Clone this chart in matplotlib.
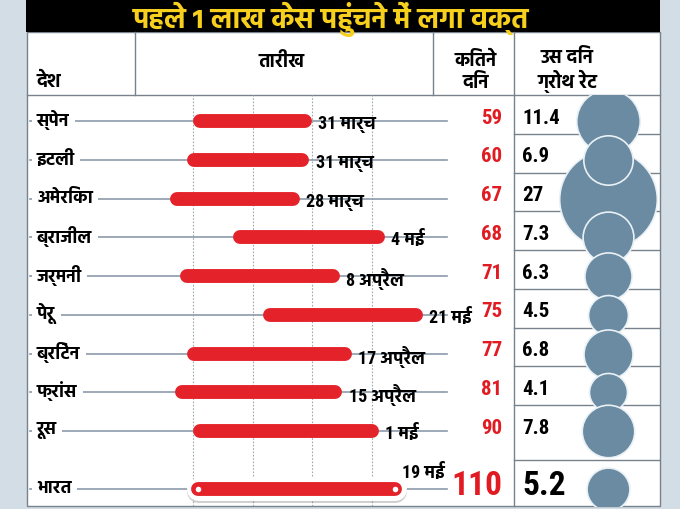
import numpy as np
import matplotlib
matplotlib.use('Agg')
import matplotlib.pyplot as plt
import matplotlib.font_manager as fm
from matplotlib.ft2font import FT2Font
from matplotlib import transforms
from matplotlib.patches import Rectangle
import matplotlib.patheffects as pe

# ---------------- data ----------------
title = 'पहले 1 लाख केस पहुंचने में लगा वक्त'
header_country = 'देश'
header_date = 'तारीख'
header_days = ['कितने', 'दिन']
header_growth = ['उस दिन', 'ग्रोथ रेट']

countries = ['स्पेन', 'इटली', 'अमेरिका', 'ब्राजील', 'जर्मनी',
             'पेरू', 'ब्रिटेन', 'फ्रांस', 'रूस', 'भारत']
end_labels = ['31 मार्च', '31 मार्च', '28 मार्च', '4 मई', '8 अप्रैल',
              '21 मई', '17 अप्रैल', '15 अप्रैल', '1 मई', '19 मई']
days_taken = [59, 60, 67, 68, 71, 75, 77, 81, 90, 110]
growth_rate = [11.4, 6.9, 27, 7.3, 6.3, 4.5, 6.8, 4.1, 7.8, 5.2]
# bar start / end (approx. day of year)
bar_start = [38.5, 35.5, 27.5, 57, 32, 71, 35.5, 30, 38.5, 37.5]
bar_end = [87.5, 86.5, 82, 122, 101, 140, 106.5, 102, 119, 130]
grid_days = [35, 63, 91, 119]

# ---------------- fonts ----------------
dev_ok = {}
for f in fm.fontManager.ttflist:
    if dev_ok.get(f.name):
        continue
    try:
        cmap = FT2Font(f.fname).get_charmap()
    except Exception:
        continue
    dev_ok[f.name] = dev_ok.get(f.name, False) or (ord('क') in cmap)

def pick(cands):
    for c in cands:
        if dev_ok.get(c):
            return c
    for k, v in dev_ok.items():
        if v and 'Unifont' not in k and 'Mono' not in k:
            return k
    return None

dev = pick(['Hind', 'Mukta', 'Noto Sans Devanagari', 'Khand', 'Poppins', 'FreeSans'])
names = set(dev_ok)
num_font = None
for cand in ['Liberation Sans Narrow', 'Roboto Condensed', 'Liberation Sans', 'DejaVu Sans']:
    if cand in names:
        num_font = cand
        break
DEVF = ([dev] if dev else []) + ['DejaVu Sans']
NUMF = [num_font] + DEVF

# ---------------- layout ----------------
W, H = 680, 510
RED = '#e4222a'
TXTRED = '#e01b22'
BLUE = '#6a8ba1'
LINE = '#8d9bab'
BORDER = '#77828c'

fig = plt.figure(figsize=(6.8, 5.1), dpi=100, facecolor='#d3dde6')
bg = fig.add_axes([0, 0, 1, 1])
bg.set_xlim(0, W)
bg.set_ylim(H, 0)
bg.axis('off')

bg.add_patch(Rectangle((27, 33), 633, 474, fc='white', ec=BORDER, lw=1, zorder=0))
bg.add_patch(Rectangle((26, 0), 634, 33, fc='black', ec='none', zorder=1))
bg.text(331, 19, title, color='#f7cf1d', fontsize=20.5, fontweight='bold',
        ha='center', va='center', family=DEVF)

for x0, y0, y1 in [(135, 33, 96), (433, 33, 96), (514, 33, 507)]:
    bg.plot([x0, x0], [y0, y1], color=BORDER, lw=1)
bg.plot([27, 660], [96, 96], color=BORDER, lw=1)

hkw = dict(fontsize=13.5, fontweight='bold', va='center', family=DEVF)
bg.text(36, 82, header_country, ha='left', **hkw)
bg.text(282, 62, header_date, ha='center', **hkw)
for txt, yy in zip(header_days, [61, 83]):
    bg.text(476, yy, txt, ha='center', **hkw)
for txt, yy in zip(header_growth, [58, 81]):
    bg.text(567, yy, txt, ha='center', **hkw)

# data axes: x in days, y in rows
def px2day(px):
    return 91 + (px - 312) / 2.125

def px2row(py):
    return (py - 122) / 38.75

ax = fig.add_axes([27 / W, (H - 507) / H, 633 / W, 411 / H])
ax.patch.set_alpha(0)
ax.axis('off')
ax.set_autoscale_on(False)
ax.set_xlim(px2day(27), px2day(660))
ax.set_ylim(px2row(507), px2row(96))

blend = transforms.blended_transform_factory(bg.transData, ax.transData)

n = len(countries)
ypos = np.r_[np.arange(n - 1), n - 0.5]

# dotted grid
ax.vlines(grid_days, 0, 1, transform=ax.get_xaxis_transform(),
          colors='#9ea8b1', lw=0.8, linestyles=(0, (1.5, 1.5)), zorder=0.5)

# guide lines and names
for i in range(n):
    ax.plot([30, 447], [ypos[i], ypos[i]], transform=blend, color=LINE,
            lw=1.2, zorder=1)
    ax.text(37, ypos[i] - 0.05, countries[i], transform=blend, fontsize=13,
            fontweight='bold', ha='left', va='center', family=DEVF, zorder=2,
            bbox=dict(boxstyle='square,pad=0.3', fc='white', ec='none'))

# bars (all but India)
ax.hlines(ypos[:-1], bar_start[:-1], bar_end[:-1], colors=RED, lw=10,
          capstyle='round', zorder=3)
# India bar highlighted
yi = ypos[-1]
ax.plot([bar_start[-1], bar_end[-1]], [yi, yi], color='white', lw=16.5,
        solid_capstyle='round', zorder=3,
        path_effects=[pe.SimpleLineShadow(offset=(0, -1.5), shadow_color='#777777',
                                          alpha=0.35), pe.Normal()])
ax.plot([bar_start[-1], bar_end[-1]], [yi, yi], color=RED, lw=10,
        solid_capstyle='round', zorder=4)
ax.scatter([bar_start[-1], bar_end[-1]], [yi, yi], s=16, c='white',
           zorder=5, linewidths=0)

# end date labels
for i in range(n - 1):
    ax.annotate(end_labels[i], xy=(bar_end[i], ypos[i]), xytext=(9.5, -1.5),
                textcoords='offset points', ha='left', va='center',
                fontsize=13, fontweight='bold', family=NUMF, zorder=6)
ax.annotate(end_labels[-1], xy=(bar_end[-1], yi), xytext=(36, 12),
            textcoords='offset points', ha='right', va='center',
            fontsize=13, fontweight='bold', family=NUMF, zorder=6)

# days taken and growth rate
for i in range(n):
    big = i == n - 1
    ax.text(502, ypos[i] - 0.1, str(days_taken[i]), transform=blend,
            ha='right', va='center', color=TXTRED, fontweight='bold',
            fontsize=24 if big else 15, family=NUMF, zorder=6)
    ax.text(522, ypos[i] - 0.1, f'{growth_rate[i]:g}', transform=blend,
            ha='left', va='center', color='black', fontweight='bold',
            fontsize=24 if big else 15, family=NUMF, zorder=6)

# growth column cell lines
cells = list(np.arange(8) + 0.33) + [8.75]
for c in cells:
    ax.plot([514, 660], [c, c], transform=blend, color=BORDER, lw=1, zorder=1)

# bubbles
imax = int(np.argmax(growth_rate))
for i in range(n):
    z = 4 if i == imax else 5 + i * 0.01
    ax.scatter([608], [ypos[i]], s=183 * growth_rate[i], c=BLUE,
               edgecolors='#e9f1f6', linewidths=1.2, transform=blend, zorder=z)

fig.savefig('out.png', dpi=100, facecolor=fig.get_facecolor())
